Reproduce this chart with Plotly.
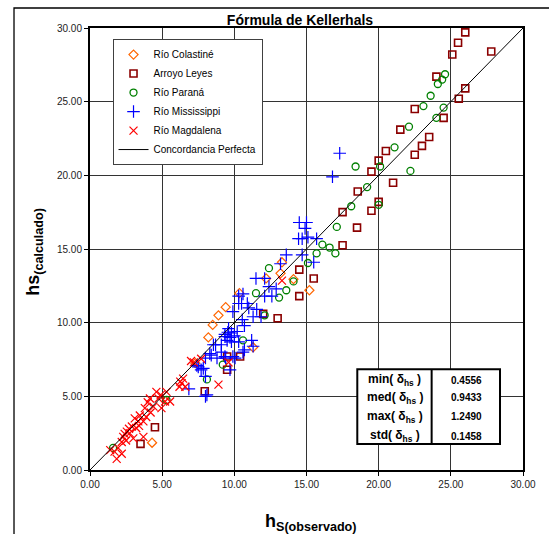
import plotly.graph_objects as go

# Observed vs calculated scour depth (hs) for each river data set
colastine_x = [13.3, 13.2, 12.2, 14.1, 15.2, 10.35, 9.4, 8.9, 8.5, 8.2, 11.3, 7.3, 4.3]
colastine_y = [14.1, 13.35, 13.0, 12.95, 12.2, 12.0, 11.05, 10.5, 9.85, 9.0, 8.33, 7.25, 1.85]

leyes_x = [26.0, 27.8, 25.5, 25.1, 24.0, 26.0, 25.55, 22.5, 24.5, 21.5, 23.5, 23.0, 20.5, 22.5,
           20.0, 19.5, 21.0, 18.55, 20.0, 19.5, 17.5, 18.5, 17.5, 14.5, 15.5, 14.5, 13.0, 12.0,
           9.5, 9.5, 10.4, 7.95, 4.5, 3.5]
leyes_y = [29.7, 28.4, 29.0, 28.2, 26.7, 25.9, 25.2, 24.5, 23.9, 23.1, 22.6, 22.0, 21.65, 21.4,
           21.0, 20.25, 19.5, 18.9, 18.2, 17.6, 17.5, 16.45, 15.25, 13.6, 13.0, 11.8, 10.3, 10.6,
           7.7, 6.8, 7.7, 5.35, 2.9, 1.77]

parana_x = [24.6, 24.4, 24.1, 23.6, 23.1, 24.5, 24.0, 22.1, 21.1, 18.4, 20.1, 22.2, 19.2, 18.1,
            20.0, 17.1, 16.1, 16.6, 17.0, 15.7, 15.1, 12.4, 14.1, 13.6, 11.5, 13.1, 12.1, 10.6,
            9.2, 8.1, 5.3, 1.6]
parana_y = [26.86, 26.5, 26.2, 25.4, 24.7, 24.6, 23.9, 23.3, 21.9, 20.6, 20.6, 20.3, 19.2, 17.9,
            18.0, 16.5, 15.3, 15.1, 14.7, 14.7, 14.05, 13.7, 12.8, 12.2, 12.0, 11.7, 10.5, 8.8,
            7.15, 6.15, 4.75, 1.5]

mississippi_x = [17.3, 16.8, 14.5, 15.0, 14.9, 14.45, 14.7, 15.1, 15.7, 13.6, 14.7, 13.2, 15.5,
                 11.5, 12.1, 12.4, 12.9, 12.1, 12.6, 10.3, 10.6, 10.5, 10.9, 10.3, 11.0, 11.55,
                 11.3, 11.85, 10.55, 9.9, 10.7, 10.2, 9.6, 9.8, 9.35, 9.5, 9.8, 10.3, 9.35, 9.7,
                 10.0, 9.55, 11.2, 11.3, 10.7, 8.7, 9.1, 8.55, 9.1, 8.3, 8.4, 8.0, 8.8, 9.35, 9.9,
                 10.05, 10.6, 9.4, 7.4, 7.5, 7.85, 7.7, 9.7, 8.0, 6.85, 8.1, 8.0]
mississippi_y = [21.5, 19.9, 16.8, 16.8, 16.4, 15.7, 15.7, 15.8, 15.7, 14.6, 14.6, 14.0, 14.1,
                 13.0, 13.0, 12.45, 12.3, 11.8, 11.8, 11.8, 11.95, 11.3, 11.3, 11.3, 11.0, 10.9,
                 10.4, 10.4, 10.2, 10.75, 9.8, 9.4, 9.6, 9.3, 9.2, 8.8, 8.7, 8.7, 9.05, 9.0,
                 9.1, 9.35, 8.8, 8.4, 8.15, 8.5, 8.5, 8.5, 8.0, 7.9, 7.8, 7.6, 7.6, 7.7, 7.7,
                 7.6, 8.0, 7.6, 7.1, 7.0, 6.9, 6.8, 6.8, 6.35, 5.5, 5.1, 5.0]

magdalena_x = [7.0, 7.2, 7.7, 6.35, 6.6, 6.2, 6.25, 6.45, 8.9, 9.6, 13.3, 4.6, 5.3, 4.9, 5.2,
               5.55, 4.75, 4.15, 4.4, 4.95, 3.8, 3.45, 3.9, 4.2, 3.35, 3.7, 2.9, 3.2, 3.4, 2.55,
               2.75, 2.3, 3.0, 3.7, 2.2, 2.5, 1.95, 1.7, 2.2, 1.4, 1.85, 2.7, 4.0, 3.1, 2.4]
magdalena_y = [7.4, 7.3, 7.55, 5.9, 5.65, 5.65, 6.0, 6.2, 5.8, 7.3, 12.85, 5.3, 5.3, 5.1, 4.65,
               4.65, 4.85, 4.85, 4.3, 4.2, 4.2, 3.7, 3.6, 3.9, 3.3, 3.3, 2.95, 2.85, 3.0, 2.6,
               2.5, 2.25, 2.15, 2.25, 1.9, 2.0, 1.5, 1.25, 1.1, 1.35, 0.75, 2.8, 4.6, 3.5, 2.45]

# Perfect agreement line
line_x = [0, 30]
line_y = [0, 30]

# Error statistics box
stat_labels = ["min( δ<sub>hs</sub> )", "med( δ<sub>hs</sub> )", "max( δ<sub>hs</sub> )", "std( δ<sub>hs</sub> )"]
stat_values = ["0.4556", "0.9433", "1.2490", "0.1458"]

FONT = "Arial, 'Liberation Sans', sans-serif"

fig = go.Figure()


def add_series(name, xs, ys, symbol, color, size, lw):
    fig.add_trace(go.Scatter(
        x=xs, y=ys, mode="markers", name=name,
        marker=dict(symbol=symbol, size=size, color=color,
                    line=dict(color=color, width=lw)),
    ))


add_series("Río Colastiné", colastine_x, colastine_y, "diamond-open", "#FF6600", 7, 1.2)
add_series("Arroyo Leyes", leyes_x, leyes_y, "square-open", "#8B0000", 7, 1.6)
add_series("Río Paraná", parana_x, parana_y, "circle-open", "#008000", 7, 1.3)
add_series("Río Mississippi", mississippi_x, mississippi_y, "cross-thin-open", "#0000FF", 9, 1.2)
add_series("Río Magdalena", magdalena_x, magdalena_y, "x-thin-open", "#FF0000", 8, 1.2)

fig.add_trace(go.Scatter(
    x=line_x, y=line_y, mode="lines", name="Concordancia Perfecta",
    line=dict(color="black", width=1),
))

axis_common = dict(
    range=[0, 30], dtick=5, tick0=0, tickformat=".2f",
    showgrid=True, gridcolor="#333333", gridwidth=1,
    showline=True, linecolor="black", linewidth=2, mirror=True,
    ticks="outside", ticklen=4, tickcolor="black",
    zeroline=False, tickfont=dict(family=FONT, size=10, color="#222222"),
)

fig.update_layout(
    width=549, height=534,
    margin=dict(l=90, r=26, t=28, b=64),
    paper_bgcolor="white", plot_bgcolor="white",
    font=dict(family=FONT, color="black"),
    xaxis=axis_common,
    yaxis=axis_common,
    showlegend=True,
    legend=dict(
        x=0.052, y=0.975, xanchor="left", yanchor="top",
        bgcolor="white", bordercolor="#404040", borderwidth=1,
        font=dict(family=FONT, size=10, color="black"),
        tracegroupgap=0,
    ),
    title=dict(
        text="<b>Fórmula de Kellerhals</b>",
        x=0.485, xref="paper", xanchor="center",
        y=1 - 20 / 534, yref="container", yanchor="middle",
        font=dict(family=FONT, size=14, color="black"),
    ),
)

# Outer chart frame
fig.add_shape(type="rect", xref="paper", yref="paper",
              x0=-0.1755, x1=1.12, y0=-0.2, y1=1.0452,
              line=dict(color="black", width=1.3), fillcolor="rgba(0,0,0,0)", layer="below")

# Statistics table
tx0, tx1, tdiv = 0.6173, 0.9469, 0.789
ty0, ty1 = 0.0588, 0.2278
fig.add_shape(type="rect", xref="paper", yref="paper", x0=tx0, x1=tx1, y0=ty0, y1=ty1,
              line=dict(color="black", width=2), fillcolor="white", layer="above")
fig.add_shape(type="line", xref="paper", yref="paper", x0=tdiv, x1=tdiv, y0=ty0, y1=ty1,
              line=dict(color="black", width=2), layer="above")
row_y = [0.2036, 0.1636, 0.1206, 0.0769]
for lab, val, ry in zip(stat_labels, stat_values, row_y):
    fig.add_annotation(xref="paper", yref="paper", x=0.704, y=ry, text=f"<b>{lab}</b>",
                       showarrow=False, xanchor="center", yanchor="middle",
                       font=dict(family=FONT, size=12, color="black"))
    fig.add_annotation(xref="paper", yref="paper", x=0.870, y=ry, text=f"<b>{val}</b>",
                       showarrow=False, xanchor="center", yanchor="middle",
                       font=dict(family=FONT, size=10, color="black"))

# Axis titles
fig.add_annotation(xref="paper", yref="paper", x=0.51, y=-0.118,
                   text="<b>h<sub>S(observado)</sub></b>", showarrow=False,
                   xanchor="center", yanchor="middle",
                   font=dict(family=FONT, size=18, color="black"))
fig.add_annotation(xref="paper", yref="paper", x=-0.127, y=0.494,
                   text="<b>hs<sub>(calculado)</sub></b>", showarrow=False, textangle=-90,
                   xanchor="center", yanchor="middle",
                   font=dict(family=FONT, size=18, color="black"))

fig.write_html("out.html")
